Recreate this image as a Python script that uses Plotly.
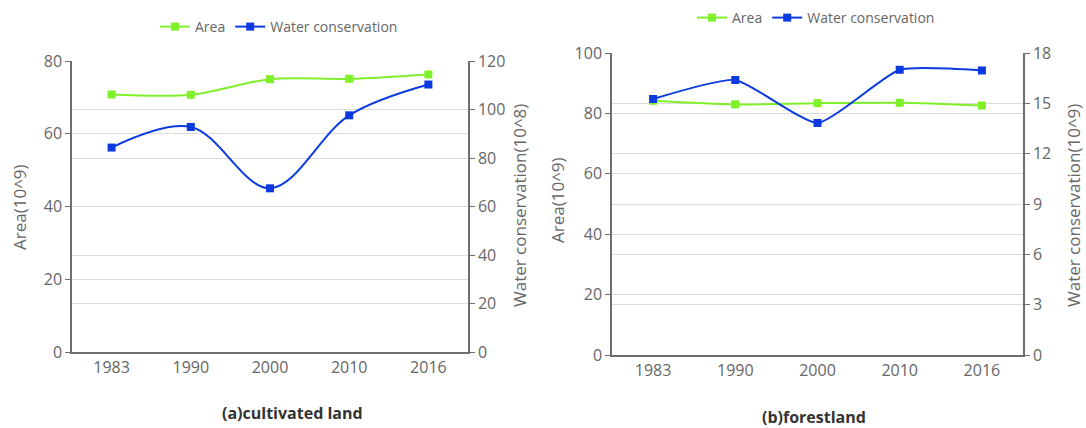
import plotly.graph_objects as go

years = ["1983", "1990", "2000", "2010", "2016"]

# (a) cultivated land
cult_area = [70.8, 70.7, 75.0, 75.1, 76.3]
cult_water = [84.3, 92.8, 67.5, 97.6, 110.3]

# (b) forestland
forest_area = [84.2, 83.0, 83.4, 83.5, 82.6]
forest_water = [15.26, 16.39, 13.83, 17.0, 16.96]

GREEN = "#80f02a"
BLUE = "#0b3be0"
AXIS = "#6e6e6e"
GRID = "#dcdcdc"
TXT = "#666666"
FONT = "Open Sans"

W, H = 1086, 428

def px_x(v):
    return v / W

def px_y(v):
    return 1 - v / H

fig = go.Figure()

def add_series(x_ax, y_ax, vals, name, color, legend, smooth):
    fig.add_trace(go.Scatter(
        x=years, y=vals, name=name, mode="lines+markers",
        line=dict(color=color, width=2, shape="spline", smoothing=smooth),
        marker=dict(symbol="square", size=8, color=color),
        xaxis=x_ax, yaxis=y_ax, legend=legend, showlegend=True,
    ))

add_series("x", "y", cult_area, "Area", GREEN, "legend", 0.9)
add_series("x", "y2", cult_water, "Water conservation", BLUE, "legend", 1.0)
add_series("x2", "y3", forest_area, "Area", GREEN, "legend2", 0.8)
add_series("x2", "y4", forest_water, "Water conservation", BLUE, "legend2", 0.5)

tickfont = dict(family=FONT, size=16, color=TXT)

def xaxis_cfg(dom, anchor):
    return dict(domain=dom, anchor=anchor, type="category",
                range=[-0.5, 4.5], showgrid=False, showline=True,
                linecolor=AXIS, linewidth=1.5, ticks="", tickfont=tickfont,
                zeroline=False, fixedrange=True, automargin=False)

def yaxis_cfg(dom, anchor, rng, dtick, side="left", overlaying=None):
    d = dict(domain=dom, anchor=anchor, range=rng, dtick=dtick, side=side,
             showgrid=True, gridcolor=GRID, gridwidth=1, showline=True,
             linecolor=AXIS, linewidth=1.5, ticks="outside", ticklen=5,
             tickcolor=AXIS, tickwidth=1.2, tickfont=tickfont, zeroline=False,
             fixedrange=True, automargin=False)
    if overlaying:
        d["overlaying"] = overlaying
    return d

ldx = [px_x(72), px_x(468)]
ldy = [px_y(352), px_y(61)]
rdx = [px_x(612), px_x(1023)]
rdy = [px_y(355), px_y(53)]

fig.update_layout(
    width=W, height=H,
    margin=dict(l=0, r=0, t=0, b=0, autoexpand=False),
    paper_bgcolor="white", plot_bgcolor="white",
    font=dict(family=FONT, size=14, color=TXT),
    xaxis=xaxis_cfg(ldx, "y"),
    yaxis=yaxis_cfg(ldy, "x", [0, 80], 20),
    yaxis2=yaxis_cfg(ldy, "x", [0, 120], 20, side="right", overlaying="y"),
    xaxis2=xaxis_cfg(rdx, "y3"),
    yaxis3=yaxis_cfg(rdy, "x2", [0, 100], 20),
    yaxis4=yaxis_cfg(rdy, "x2", [0, 18], 3, side="right", overlaying="y3"),
    legend=dict(orientation="h", x=px_x(155), y=px_y(27), xanchor="left",
                yanchor="middle", font=dict(family=FONT, size=14, color=TXT),
                bgcolor="rgba(0,0,0,0)", itemwidth=30, tracegroupgap=0),
    legend2=dict(orientation="h", x=px_x(692), y=px_y(18), xanchor="left",
                 yanchor="middle", font=dict(family=FONT, size=14, color=TXT),
                 bgcolor="rgba(0,0,0,0)", itemwidth=30, tracegroupgap=0),
)

ann = []
def add_ann(text, x, y, angle=0, bold=False, size=15, color=TXT):
    ann.append(dict(text=f"<b>{text}</b>" if bold else text, x=px_x(x), y=px_y(y),
                    xref="paper", yref="paper", showarrow=False, textangle=angle,
                    xanchor="center", yanchor="middle",
                    font=dict(family=FONT, size=size, color=color)))

add_ann("Area(10^9)", 19, 207, angle=-90, size=17)
add_ann("Water conservation(10^8)", 519, 206, angle=-90, size=17)
add_ann("Area(10^9)", 557, 200, angle=-90, size=17)
add_ann("Water conservation(10^9)", 1073, 206, angle=-90, size=17)
add_ann("(a)cultivated land", 292, 413, bold=True, size=16, color="#333333")
add_ann("(b)forestland", 814, 417, bold=True, size=16, color="#333333")
fig.update_layout(annotations=ann)

fig.write_html(
    "out.html",
    config={"displayModeBar": False},
    post_script="document.body.style.margin='0';document.body.style.overflow='hidden';",
)
